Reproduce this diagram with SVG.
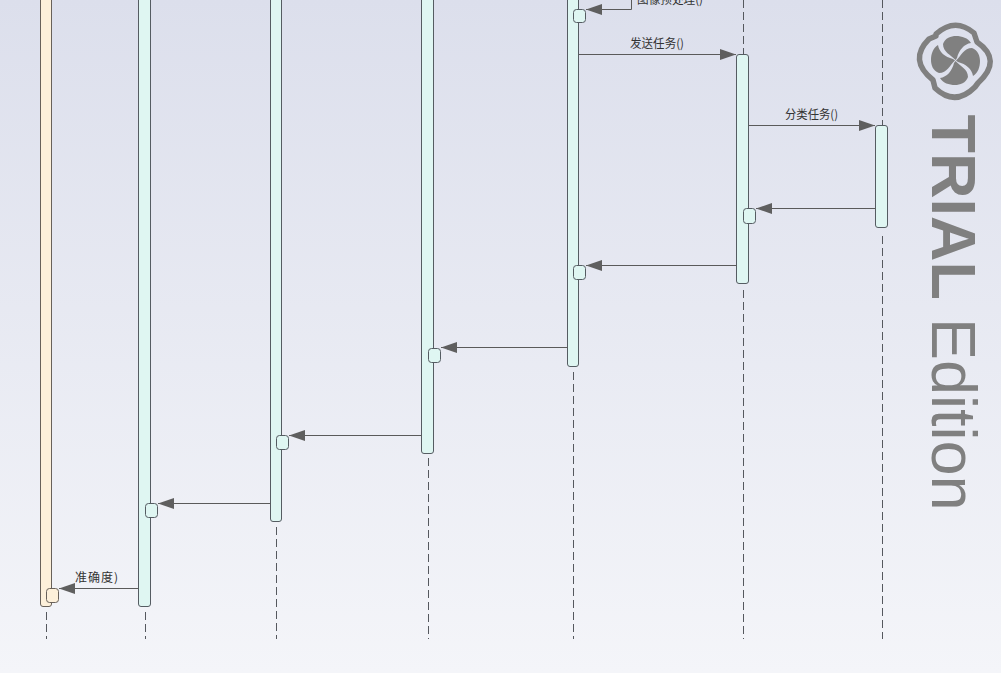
<svg xmlns="http://www.w3.org/2000/svg" width="1001" height="673" viewBox="0 0 1001 673">
<defs>
<linearGradient id="bg" x1="0" y1="0" x2="0" y2="1"><stop offset="0" stop-color="#dcdfec"/><stop offset="1" stop-color="#f4f5f9"/></linearGradient>
<marker id="arrow" markerUnits="userSpaceOnUse" markerWidth="16" markerHeight="12" refX="16" refY="6" orient="auto"><path d="M0 0.5L16 6L0 11.5Z" fill="#5f5f5f"/></marker>
</defs>
<style>
.life{stroke:#55585e;stroke-width:1;stroke-dasharray:8 4;fill:none}
.bar{fill:#dff6f2;stroke:#555c62;stroke-width:1}
.bar.o{fill:#fdf0da;stroke:#68615a}
.msg{stroke:#5a5a5a;stroke-width:1;fill:none;marker-end:url(#arrow)}
.lbl{font:12px "Noto Sans CJK SC","Liberation Sans",sans-serif;fill:#333}
.wm{font-family:"Liberation Sans",Arial,sans-serif;font-size:63px;fill:#808080}
</style>
<rect width="1001" height="673" fill="url(#bg)"/>
<g id="lifelines">
<path class="life" d="M46.500 612V639"/>
<path class="life" d="M145.500 612V639"/>
<path class="life" d="M276.500 527V639"/>
<path class="life" d="M428.500 458V639"/>
<path class="life" d="M573.500 372V639"/>
<path class="life" d="M743.500 0V54M743.500 290V639"/>
<path class="life" d="M882.500 0V125M882.500 236V639"/>
</g>
<g id="node-1"><rect class="bar o" x="40.500" y="-10" width="11" height="616.500" rx="2.500"/><rect class="bar o" x="46.500" y="588.500" width="12" height="14" rx="3"/></g>
<g id="node-2"><rect class="bar" x="138.500" y="-10" width="12" height="616.500" rx="2.500"/><rect class="bar" x="145.500" y="503.500" width="12" height="14" rx="3"/></g>
<g id="node-3"><rect class="bar" x="270.500" y="-10" width="11" height="531.500" rx="2.500"/><rect class="bar" x="276.500" y="435.500" width="12" height="14" rx="3"/></g>
<g id="node-4"><rect class="bar" x="421.500" y="-10" width="12" height="463.500" rx="2.500"/><rect class="bar" x="428.500" y="348.500" width="12" height="14" rx="3"/></g>
<g id="node-5"><rect class="bar" x="567.500" y="-10" width="11" height="376.500" rx="2.500"/><rect class="bar" x="573.500" y="9.500" width="12" height="13" rx="3"/><rect class="bar" x="573.500" y="265.500" width="12" height="14" rx="3"/></g>
<g id="node-6"><rect class="bar" x="736.500" y="54.500" width="12" height="229" rx="2.500"/><rect class="bar" x="743.500" y="208.500" width="12" height="15" rx="3"/></g>
<g id="node-7"><rect class="bar" x="875.500" y="125.500" width="12" height="102" rx="2.500"/></g>
<g id="connectors">
<path class="msg" d="M631.500 -5V9.500H586"/>
<path class="msg" d="M578.500 54.500H736"/>
<path class="msg" d="M748.500 125.500H875"/>
<path class="msg" d="M875.500 208.500H756"/>
<path class="msg" d="M736.500 265.500H586"/>
<path class="msg" d="M567.500 347.500H441"/>
<path class="msg" d="M421.500 435.500H289"/>
<path class="msg" d="M270.500 503.500H158"/>
<path class="msg" d="M138.500 588.500H59"/>
</g>
<g id="labels">
<text class="lbl" x="637" y="4" textLength="66" lengthAdjust="spacingAndGlyphs">图像预处理()</text>
<text class="lbl" x="630" y="48" textLength="54" lengthAdjust="spacingAndGlyphs">发送任务()</text>
<text class="lbl" x="785" y="119" textLength="53" lengthAdjust="spacingAndGlyphs">分类任务()</text>
<text class="lbl" x="75" y="582" textLength="43">准确度)</text>
</g>
<g id="watermark" fill="#808080">
<text class="wm" transform="translate(932 114.500) rotate(90)" font-weight="bold">TRIAL</text>
<text class="wm" transform="translate(932 318) rotate(90)">Edition</text>
<path d="M936 34Q955 17 974 33L977 42Q1003 60 978 83L975 87Q955 107 935 88L933 80Q908 60 929 39L936 36Z" fill="none" stroke="#808080" stroke-width="5.500" stroke-linejoin="round"/>
<path id="petal-top" d="M955.500 60C951 55 943 52 943 44C945 38 951 36 956 36C962 36 968 38 971 43C964 44 959 50 957 58Z"/>
<path d="M955.500 60C951 55 943 52 943 44C945 38 951 36 956 36C962 36 968 38 971 43C964 44 959 50 957 58Z" transform="rotate(90 955.500 60.500)"/>
<path d="M955.500 60C951 55 943 52 943 44C945 38 951 36 956 36C962 36 968 38 971 43C964 44 959 50 957 58Z" transform="rotate(180 955.500 60.500)"/>
<path d="M955.500 60C951 55 943 52 943 44C945 38 951 36 956 36C962 36 968 38 971 43C964 44 959 50 957 58Z" transform="rotate(270 955.500 60.500)"/>
</g>
</svg>
